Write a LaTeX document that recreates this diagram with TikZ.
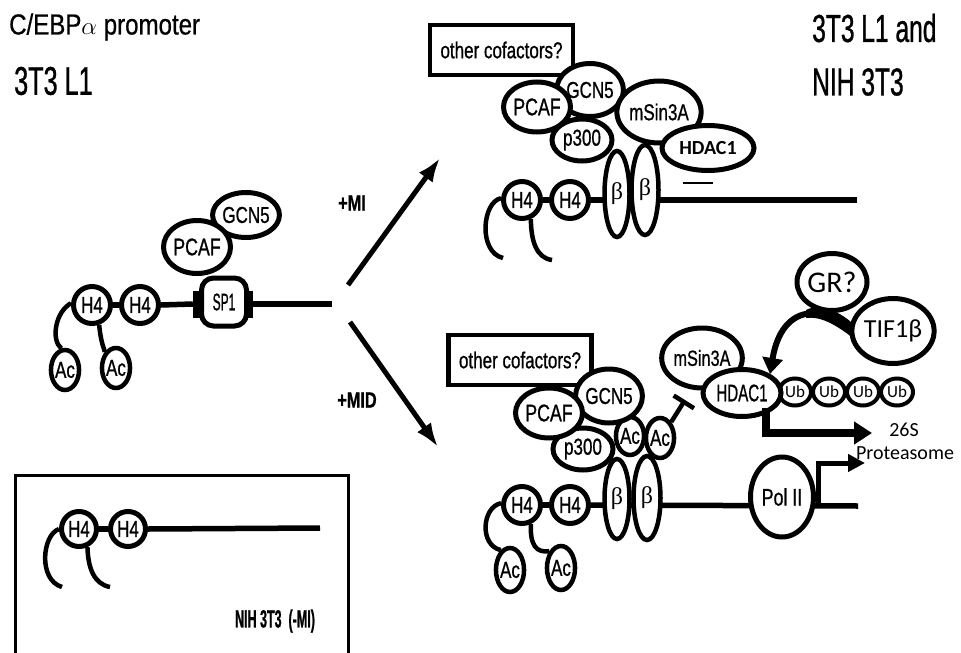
\documentclass[tikz,border=0pt]{standalone}
\usepackage{fontspec}
\setmainfont{Liberation Sans}
\newfontfamily\fa[FakeStretch=0.74,FakeBold=0.8]{Liberation Sans}
\newfontfamily\fb[FakeStretch=0.63,FakeBold=0.8]{Liberation Sans}
\newfontfamily\fc[FakeStretch=0.5,FakeBold=0.8]{Liberation Sans}
\newfontfamily\fd[FakeStretch=0.83,FakeBold=0.6]{Liberation Sans}
\newfontfamily\fcal{Carlito}
\newfontfamily\fser{Liberation Serif}
\usetikzlibrary{shapes.geometric,arrows.meta}
\tikzset{
  fsz/.style={font=\fa\fontsize{#1}{#1}\selectfont},
  csz/.style={font=\fcal\fontsize{#1}{#1}\selectfont},
  prot/.style={ellipse, draw, line width=5pt, fill=white, inner sep=0pt},
  hist/.style={circle, draw, line width=5pt, fill=white, inner sep=0pt, minimum size=37pt, font=\fa\fontsize{23}{23}\selectfont},
  acet/.style={ellipse, draw, line width=4.5pt, fill=white, inner sep=0pt, minimum width=27pt, minimum height=40pt, font=\fa\fontsize{23}{23}\selectfont},
  bet/.style={ellipse, draw, line width=4.5pt, fill=white, inner sep=0pt, minimum width=25pt, minimum height=86pt, font=\fser\fontsize{24}{24}\selectfont},
  dna/.style={line width=5.5pt},
  tailc/.style={line width=4.5pt},
  ubq/.style={ellipse, draw, line width=4pt, fill=white, inner sep=0pt, minimum width=32pt, minimum height=27pt, font=\fcal\fontsize{17}{17}\selectfont},
  cofbox/.style={draw, line width=4.5pt, fill=white, minimum width=143pt, minimum height=50pt, inner sep=0pt, font=\fa\fontsize{23}{23}\selectfont},
  bigarrow/.style={line width=5pt, -{Latex[length=24pt,width=17pt]}},
  lbl/.style={inner sep=0pt, anchor=west},
}
\begin{document}
\begin{tikzpicture}[x=1pt,y=-1pt]
\useasboundingbox (0,0) rectangle (961,653);

% ---------- titles ----------
\node[lbl, font=\fd\fontsize{29}{29}\selectfont] (title) at (9,27) {C/EBP$\alpha$ promoter};
\node[lbl, font=\fb\fontsize{40}{40}\selectfont] (cellA) at (14,81) {3T3 L1};
\node[lbl, font=\fb\fontsize{39}{39}\selectfont] (cellB) at (812,28) {3T3 L1 and};
\node[lbl, font=\fb\fontsize{39}{39}\selectfont] (cellC) at (812,82) {NIH 3T3};

% ---------- left panel (3T3 L1) ----------
\node[hist] (lh1) at (92,305) {H4};
\node[hist] (lh2) at (140,305) {H4};
\node[acet] (lac1) at (65,370) {Ac};
\node[acet] (lac2) at (116,368) {Ac};
\draw[tailc] (lh1.175) .. controls (55,312) and (51,340) .. (lac1.100);
\draw[tailc] (lh1.-70) .. controls (101,345) and (105,350) .. (lac2.125);
\draw[dna] (lh1.east) -- (lh2.west);
\node[fill=black, minimum width=60pt, minimum height=27pt, inner sep=0pt] (lblk) at (223,304) {};
\draw[dna] (lh2.east) -- (lblk.west);
\coordinate (lend) at (332,304);
\draw[dna] (lblk.east) -- (lend);
\node[draw, line width=5pt, rounded corners=12pt, fill=white, minimum width=45pt, minimum height=48pt, inner sep=0pt, font=\fc\fontsize{24}{24}\selectfont] (sp1) at (224,302) {SP1};
\node[prot, minimum width=58pt, minimum height=45pt, fsz=23] (lgcn) at (246,215) {GCN5};
\node[prot, minimum width=60pt, minimum height=53pt, fsz=24] (lpcaf) at (197,247) {PCAF};

% ---------- arrows ----------
\coordinate (a1s) at (348,285);
\coordinate (a1e) at (440,158);
\coordinate (a2s) at (350,322);
\coordinate (a2e) at (438,447);
\draw[bigarrow] (a1s) -- (a1e);
\draw[bigarrow] (a2s) -- (a2e);
\node[font=\fa\bfseries\fontsize{22}{22}\selectfont, inner sep=0pt] (lmi) at (352,203) {+MI};
\node[font=\fa\bfseries\fontsize{22}{22}\selectfont, inner sep=0pt] (lmid) at (357,400) {+MID};

% ---------- top right panel (+MI) ----------
\node[cofbox] (tbox) at (501.5,50) {other cofactors?};
\node[hist] (th1) at (522,200) {H4};
\node[hist] (th2) at (570,200) {H4};
\draw[dna] (th1.east) -- (th2.west);
\coordinate (tend) at (857,200);
\draw[dna] (th2.east) -- (tend);
\coordinate (tt1) at (503,258);
\coordinate (tt2) at (552,260);
\draw[tailc] (th1.175) .. controls (482,202) and (478,252) .. (tt1);
\draw[tailc] (th1.-65) .. controls (531,240) and (536,258) .. (tt2);
\node[bet] (tb1) at (617,194) {β};
\node[bet, minimum width=27pt, minimum height=90pt] (tb2) at (645,190) {β};
\node[prot, minimum width=60pt, minimum height=42pt, fsz=23] (tp300) at (582,140) {p300};
\node[prot, minimum width=55pt, minimum height=53pt, fsz=23] (tgcn) at (590,90) {GCN5};
\node[prot, minimum width=58pt, minimum height=50pt, fsz=24] (tpcaf) at (537,107) {PCAF};
\node[prot, minimum width=78pt, minimum height=62pt, fsz=23] (tmsin) at (659,112) {mSin3A};
\node[prot, minimum width=92pt, minimum height=45pt, font=\fcal\bfseries\fontsize{20}{20}\selectfont] (thdac) at (708,148) {HDAC1};
\draw[line width=2pt] (683,183) -- (713,183);

% ---------- bottom right panel (+MID) ----------
\node[cofbox] (bbox) at (520,360) {other cofactors?};
\node[hist] (bh1) at (522,505) {H4};
\node[hist] (bh2) at (570,505) {H4};
\draw[dna] (bh1.east) -- (bh2.west);
\coordinate (bend) at (858,506);
\draw[dna] (bh2.east) -- (bend);
\node[acet, minimum width=28pt, minimum height=44pt] (bac1) at (510,570) {Ac};
\node[acet, minimum width=28pt, minimum height=44pt] (bac2) at (561,568) {Ac};
\draw[tailc] (bh1.175) .. controls (482,507) and (479,545) .. (bac1.115);
\draw[tailc] (bh1.-65) .. controls (530,545) and (536,553) .. (bac2.125);
\node[bet, minimum height=80pt] (bb1) at (617,499) {β};
\node[bet, minimum width=27pt, minimum height=84pt] (bb2) at (647,498) {β};
\node[acet, minimum width=25pt, minimum height=38pt] (bA1) at (630,436) {Ac};
\node[acet, minimum width=26pt, minimum height=40pt] (bA2) at (660,438) {Ac};
\node[prot, minimum width=60pt, minimum height=42pt, fsz=23] (bp300) at (583,449) {p300};
\node[prot, minimum width=58pt, minimum height=54pt, fsz=23] (bgcn) at (609,396) {GCN5};
\node[prot, minimum width=62pt, minimum height=50pt, fsz=24] (bpcaf) at (549,413) {PCAF};
\coordinate (inh) at (685,400);
\draw[line width=4.5pt, -{Bar[width=24pt,line width=4.5pt]}] (bA2.55) -- (inh);

% Pol II and transcription start
\node[prot, minimum width=63pt, minimum height=80pt, fsz=24] (pol) at (782,497) {Pol II};
\coordinate (tsb) at (818,506);
\coordinate (tse) at (865,463);
\draw[line width=5pt, -{Triangle[length=17pt,width=17pt]}] (tsb) |- (tse);

% ubiquitin chain, HDAC1, mSin3A
\node[ubq] (ub1) at (795,392) {Ub};
\node[ubq] (ub2) at (829,392) {Ub};
\node[ubq] (ub3) at (863,392) {Ub};
\node[ubq] (ub4) at (897,392) {Ub};
\node[prot, minimum width=70pt, minimum height=60pt, fsz=22] (bmsin) at (702,358) {mSin3A};
\node[prot, minimum width=78pt, minimum height=47pt, font=\fb\fontsize{24}{24}\selectfont] (bhdac) at (742,393) {HDAC1};

% GR? / TIF1beta
\node[prot, minimum width=70pt, minimum height=57pt, csz=30] (gr) at (832,282) {GR?};
\coordinate (ctip) at (770,374);
\draw[line width=6pt, -{Triangle[length=16pt,width=20pt]}] (853,331) .. controls (825,305) and (782,302) .. (ctip);
\fill (851,322) .. controls (832,306) and (815,305) .. (806,310) -- (806,318) .. controls (820,316) and (835,324) .. (853,338) -- cycle;
\node[prot, minimum width=80pt, minimum height=65pt, csz=26] (tif) at (893,331) {TIF1β};

% degradation arrow
\coordinate (dst) at (766,408);
\coordinate (dend) at (872,433);
\draw[line width=8pt, -{Triangle[length=18pt,width=22pt]}] (dst) |- (dend);
\node[csz=20, inner sep=0pt] (t26) at (904,430) {26S};
\node[csz=20, inner sep=0pt] (tprot) at (905,453) {Proteasome};

% ---------- bottom left box (NIH 3T3 -MI) ----------
\draw[line width=3pt] (15,660) -- (15,475) -- (348,475) -- (348,660);
\node[hist, minimum size=35pt] (nh1) at (79,529) {H4};
\node[hist, minimum size=35pt] (nh2) at (128,529) {H4};
\draw[dna] (nh1.east) -- (nh2.west);
\coordinate (nend) at (320,528);
\draw[dna] (nh2.east) -- (nend);
\coordinate (nt1) at (62,587);
\coordinate (nt2) at (110,587);
\draw[tailc] (nh1.180) .. controls (42,535) and (38,580) .. (nt1);
\draw[tailc] (nh1.-65) .. controls (88,568) and (94,584) .. (nt2);
\node[font=\fc\bfseries\fontsize{25}{25}\selectfont, inner sep=0pt] (nlab) at (275,621) {NIH 3T3\ \ (-MI)};

\end{tikzpicture}
\end{document}
